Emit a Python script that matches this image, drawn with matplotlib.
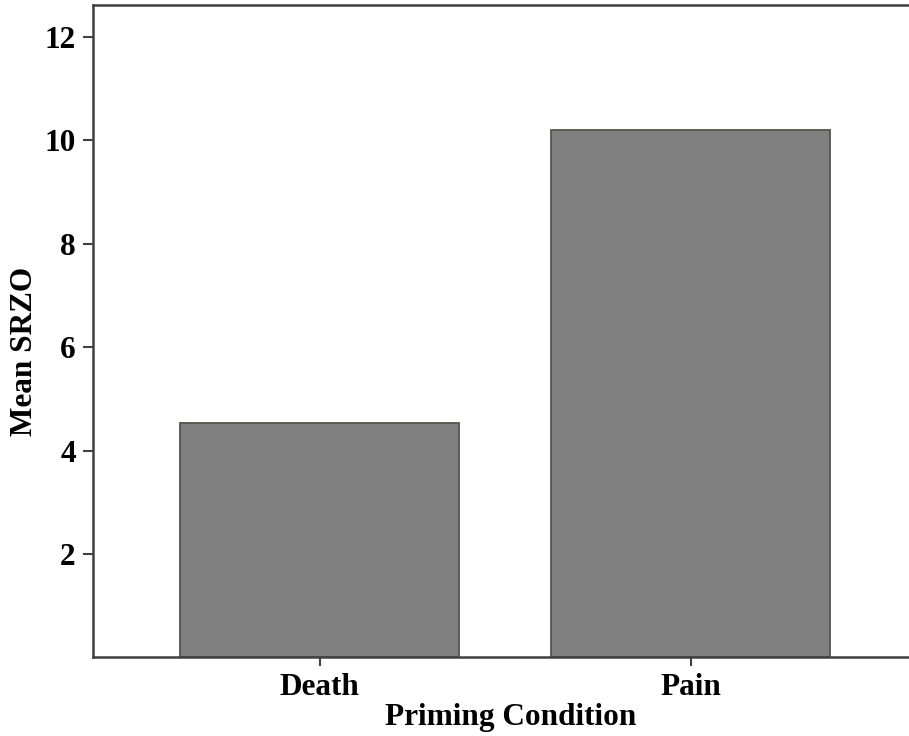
import matplotlib
matplotlib.use("Agg")
import matplotlib.pyplot as plt

categories = ["Death", "Pain"]
values = [4.53, 10.2]
yticks = [2, 4, 6, 8, 10, 12]

plt.rcParams['font.family'] = ['Liberation Serif', 'DejaVu Serif']
plt.rcParams['font.weight'] = 'bold'

W, H = 909, 736
fig = plt.figure(figsize=(W / 100, H / 100), dpi=100)
ax = fig.add_axes([92.5 / W, 1 - 657.3 / H, 1 - 92.5 / W, (657.3 - 5) / H])

x = list(range(len(categories)))
ax.bar(x, values, width=0.752, color='#808080', edgecolor='#55554a', linewidth=1.3, zorder=2)

ax.set_xlim(-0.613, 1.588)
ax.set_ylim(0, 12.62)
ax.set_xticks(x)
ax.set_xticklabels(categories)
ax.set_yticks(yticks)
ax.set_yticklabels([str(t) for t in yticks])

for s in ['left', 'bottom', 'top']:
    ax.spines[s].set_color('#404040')
    ax.spines[s].set_linewidth(1.8)
ax.spines['right'].set_visible(False)

ax.tick_params(axis='y', length=7, width=1.5, color='#404040', pad=5, labelsize=22.5)
ax.tick_params(axis='x', length=6.5, width=1.5, color='#404040', pad=5, labelsize=22.5)
for lbl in ax.get_xticklabels() + ax.get_yticklabels():
    lbl.set_fontweight('bold')

fig.text(511 / W, 1 - 718 / H, 'Priming Condition', ha='center', va='center',
         fontsize=22.5, fontweight='bold')
fig.text(25 / W, 1 - 351 / H, 'Mean SRZO', ha='center', va='center',
         rotation=90, fontsize=22.5, fontweight='bold')

fig.savefig('out.png', dpi=100)
